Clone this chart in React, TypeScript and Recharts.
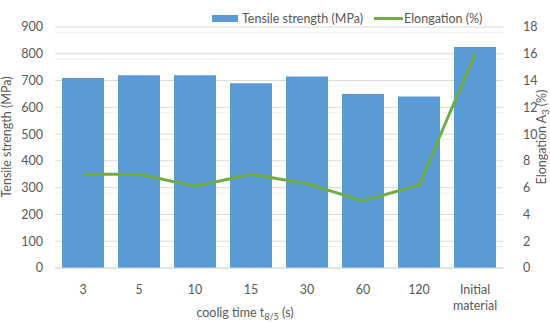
import React from "react";
import {
  Bar,
  CartesianGrid,
  ComposedChart,
  Legend,
  Line,
  XAxis,
  YAxis,
} from "recharts";

const categories = ["3", "5", "10", "15", "30", "60", "120", "Initial material"];
const tensile = [710, 720, 720, 690, 715, 650, 640, 825];
const elongation = [7, 7, 6.1, 7, 6.3, 5, 6.2, 16];
const leftTicks = [0, 100, 200, 300, 400, 500, 600, 700, 800, 900];
const rightTicks = [0, 2, 4, 6, 8, 10, 12, 14, 16, 18];
const minorLines = [
  20, 40, 60, 80, 120, 140, 160, 180, 220, 240, 260, 280, 320, 340, 360, 380,
  420, 440, 460, 480, 520, 540, 560, 580, 620, 640, 660, 680, 720, 740, 760,
  780, 820, 840, 860, 880,
];

const data = categories.map((c, i) => ({
  name: c,
  tensile: tensile[i],
  elong: elongation[i],
}));

const FONT = "Lato, 'Open Sans', sans-serif";
const GREY = "#595959";
const BLUE = "#5B9BD5";
const GREEN = "#70AD47";

const CategoryTick = (props: any) => {
  const { x, y, payload } = props;
  const words = String(payload.value).split(" ");
  return (
    <text x={x} y={y + 18} textAnchor="middle" fill={GREY} fontSize={12.5} fontFamily={FONT}>
      {words.map((w: string, i: number) => (
        <tspan key={i} x={x} dy={i === 0 ? 0 : 16}>
          {w}
        </tspan>
      ))}
    </text>
  );
};

const LegendBox = () => (
  <svg width={280} height={20} style={{ fontFamily: FONT }}>
    <rect x={0} y={7} width={26} height={7} fill={BLUE} />
    <text x={30} y={15} fontSize={12.5} fill={GREY}>
      Tensile strength (MPa)
    </text>
    <line x1={162} x2={191} y1={10.5} y2={10.5} stroke={GREEN} strokeWidth={3} />
    <text x={192} y={15} fontSize={12.5} fill={GREY}>
      Elongation (%)
    </text>
  </svg>
);

export default function App() {
  return (
    <div style={{ position: "absolute", left: 0, top: 0, background: "#fff" }}>
      <ComposedChart
        width={550}
        height={322}
        data={data}
        margin={{ top: 7, right: 0, bottom: 0, left: 0 }}
        barCategoryGap="12.5%"
      >
        <CartesianGrid
          yAxisId="left"
          vertical={false}
          horizontalValues={minorLines}
          stroke="#eeeeee"
          strokeWidth={1}
        />
        <CartesianGrid
          yAxisId="left"
          vertical={false}
          horizontalValues={leftTicks}
          stroke="#d9d9d9"
          strokeWidth={1}
        />
        <XAxis
          dataKey="name"
          height={54}
          tickLine={false}
          axisLine={{ stroke: "#d9d9d9" }}
          tick={<CategoryTick />}
          interval={0}
          label={(p: any) => {
            const vb = p.viewBox;
            return (
              <text
                x={245}
                y={vb.y + 49}
                textAnchor="middle"
                fill={GREY}
                fontSize={12.5}
                fontFamily={FONT}
              >
                coolig time t
                <tspan fontSize={9} dy={3}>8/5</tspan>
                <tspan dy={-3}> (s)</tspan>
              </text>
            );
          }}
        />
        <YAxis
          yAxisId="left"
          width={55}
          domain={[0, 900]}
          ticks={leftTicks}
          tickLine={false}
          axisLine={false}
          tick={{ fill: GREY, fontSize: 12.5, fontFamily: FONT }}
          tickMargin={6}
          label={() => (
            <text
              x={11}
              y={137}
              transform="rotate(-90 11 137)"
              textAnchor="middle"
              fill={GREY}
              fontSize={12.5}
              fontFamily={FONT}
            >
              Tensile strength (MPa)
            </text>
          )}
        />
        <YAxis
          yAxisId="right"
          orientation="right"
          width={47}
          domain={[0, 18]}
          ticks={rightTicks}
          tickLine={false}
          axisLine={false}
          tick={{ fill: GREY, fontSize: 12.5, fontFamily: FONT, textAnchor: "start" }}
          tickMargin={14}
          label={() => (
            <text
              x={546}
              y={137}
              transform="rotate(-90 546 137)"
              textAnchor="middle"
              fill={GREY}
              fontSize={12.5}
              fontFamily={FONT}
            >
              Elongation A
              <tspan fontSize={9} dy={3}>3</tspan>
              <tspan dy={-3}> (%)</tspan>
            </text>
          )}
        />
        <Legend
          verticalAlign="top"
          align="left"
          content={() => <LegendBox />}
          wrapperStyle={{ position: "absolute", left: 212, top: 8, width: 280, height: 20 }}
        />
        <Bar
          yAxisId="left"
          dataKey="tensile"
          name="Tensile strength (MPa)"
          fill={BLUE}
          isAnimationActive={false}
        />
        <Line
          yAxisId="right"
          dataKey="elong"
          name="Elongation (%)"
          stroke={GREEN}
          strokeWidth={3}
          dot={false}
          isAnimationActive={false}
        />
      </ComposedChart>
    </div>
  );
}
